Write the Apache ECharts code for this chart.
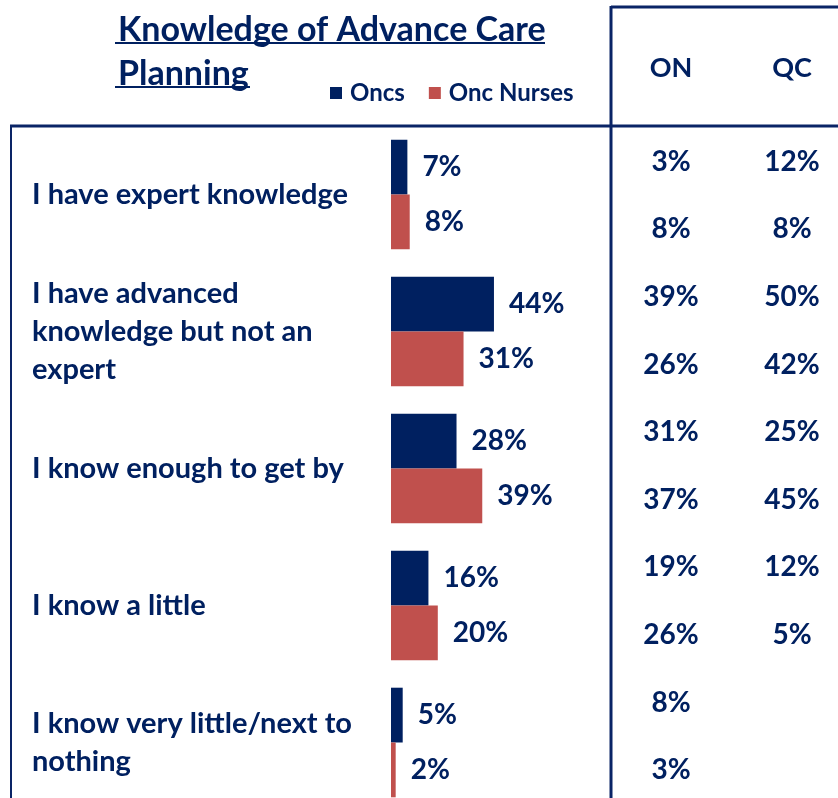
<!DOCTYPE html>
<html>
<head>
<meta charset="utf-8">
<script src="https://cdn.jsdelivr.net/npm/echarts@6/dist/echarts.min.js"></script>
<style>
  html, body { margin: 0; padding: 0; background: #fff; }
  #main { width: 838px; height: 798px; }
</style>
</head>
<body>
<div id="main"></div>
<script>
// answers, top to bottom
var categories = [
    'I have expert knowledge',
    'I have advanced\nknowledge but not an\nexpert',
    'I know enough to get by',
    'I know a little',
    'I know very little/next to\nnothing'
];
var oncs = [7, 44, 28, 16, 5];
var oncNurses = [8, 31, 39, 20, 2];

// provincial breakdown (right-hand table)
var provinces = ['ON', 'QC'];
var onOncs = [3, 39, 31, 19, 8];
var onNurses = [8, 26, 37, 26, 3];
var qcOncs = [12, 50, 25, 12, null];
var qcNurses = [8, 42, 45, 5, null];

var NAVY = '#002060';
var RED = '#C0504D';
var FONT = 'Lato';

// table rows: oncs row then nurses row for each answer
var tableRows = [];
var tableData = [];
categories.forEach(function (c, i) {
    tableRows.push(i + 'a', i + 'b');
    tableData.push([0, i * 2, onOncs[i]], [0, i * 2 + 1, onNurses[i]]);
    if (qcOncs[i] != null) tableData.push([1, i * 2, qcOncs[i]]);
    if (qcNurses[i] != null) tableData.push([1, i * 2 + 1, qcNurses[i]]);
});

var barLabel = {
    show: true,
    position: 'right',
    distance: 15,
    formatter: '{c}%',
    fontFamily: FONT,
    fontWeight: 'bold',
    fontSize: 28,
    color: NAVY
};

var option = {
    animation: false,
    title: {
        text: 'Knowledge of Advance Care\nPlanning',
        left: 113,
        top: 3,
        textStyle: {
            fontFamily: FONT,
            fontWeight: 'bold',
            fontSize: 34,
            lineHeight: 44,
            color: NAVY
        }
    },
    legend: {
        data: ['Oncs', 'Onc Nurses'],
        left: 325,
        top: 76,
        icon: 'rect',
        itemWidth: 12,
        itemHeight: 12,
        itemGap: 24,
        textStyle: {
            fontFamily: FONT,
            fontWeight: 'bold',
            fontSize: 24,
            color: NAVY,
            padding: [0, 0, 0, 3]
        }
    },
    grid: [
        {left: 391, right: 213, top: 126, height: 685, outerBoundsMode: 'none'},
        {left: 671, right: 46, top: 128, height: 676, outerBoundsMode: 'none'}
    ],
    xAxis: [
        {gridIndex: 0, type: 'value', min: 0, max: 100, show: false},
        {
            gridIndex: 1,
            type: 'category',
            data: provinces,
            position: 'top',
            boundaryGap: false,
            axisLine: {show: false},
            axisTick: {show: false},
            splitLine: {show: false},
            axisLabel: {
                margin: 60,
                verticalAlign: 'middle',
                fontFamily: FONT,
                fontWeight: 'bold',
                fontSize: 27,
                color: NAVY
            }
        }
    ],
    yAxis: [
        {
            gridIndex: 0,
            type: 'category',
            data: categories,
            inverse: true,
            axisLine: {show: false},
            axisTick: {show: false},
            axisLabel: {
                align: 'left',
                margin: 359,
                fontFamily: FONT,
                fontWeight: 'bold',
                fontSize: 29,
                lineHeight: 38,
                color: NAVY
            }
        },
        {gridIndex: 1, type: 'category', data: tableRows, inverse: true, show: false}
    ],
    series: [
        {
            name: 'Oncs',
            type: 'bar',
            xAxisIndex: 0,
            yAxisIndex: 0,
            data: oncs,
            barGap: 0,
            barCategoryGap: '20%',
            itemStyle: {color: NAVY},
            label: barLabel
        },
        {
            name: 'Onc Nurses',
            type: 'bar',
            xAxisIndex: 0,
            yAxisIndex: 0,
            data: oncNurses,
            barGap: 0,
            barCategoryGap: '20%',
            itemStyle: {color: RED},
            label: barLabel
        },
        {
            name: 'table',
            type: 'scatter',
            xAxisIndex: 1,
            yAxisIndex: 1,
            symbolSize: 1,
            itemStyle: {color: 'transparent', opacity: 1},
            data: tableData,
            label: {
                show: true,
                position: 'inside',
                formatter: function (p) {
                    return p.value[2] + '%';
                },
                fontFamily: FONT,
                fontWeight: 'bold',
                fontSize: 28,
                color: NAVY
            }
        }
    ],
    graphic: [
        // title underlines
        {type: 'line', shape: {x1: 115, y1: 43, x2: 545, y2: 43}, style: {stroke: NAVY, lineWidth: 2}},
        {type: 'line', shape: {x1: 115, y1: 87, x2: 250, y2: 87}, style: {stroke: NAVY, lineWidth: 2}},
        // frame
        {type: 'line', shape: {x1: 611, y1: 7, x2: 838, y2: 7}, style: {stroke: '#0a2466', lineWidth: 3}},
        {type: 'line', shape: {x1: 611, y1: 6, x2: 611, y2: 798}, style: {stroke: '#0a2466', lineWidth: 3}},
        {type: 'line', shape: {x1: 10, y1: 126, x2: 838, y2: 126}, style: {stroke: '#0a2466', lineWidth: 3}},
        {type: 'line', shape: {x1: 11, y1: 125, x2: 11, y2: 798}, style: {stroke: '#0a2466', lineWidth: 2}}
    ]
};

var myChart = echarts.init(document.getElementById('main'));
myChart.setOption(option);

window.addEventListener('resize', function () {
    myChart.resize();
});
</script>
</body>
</html>
